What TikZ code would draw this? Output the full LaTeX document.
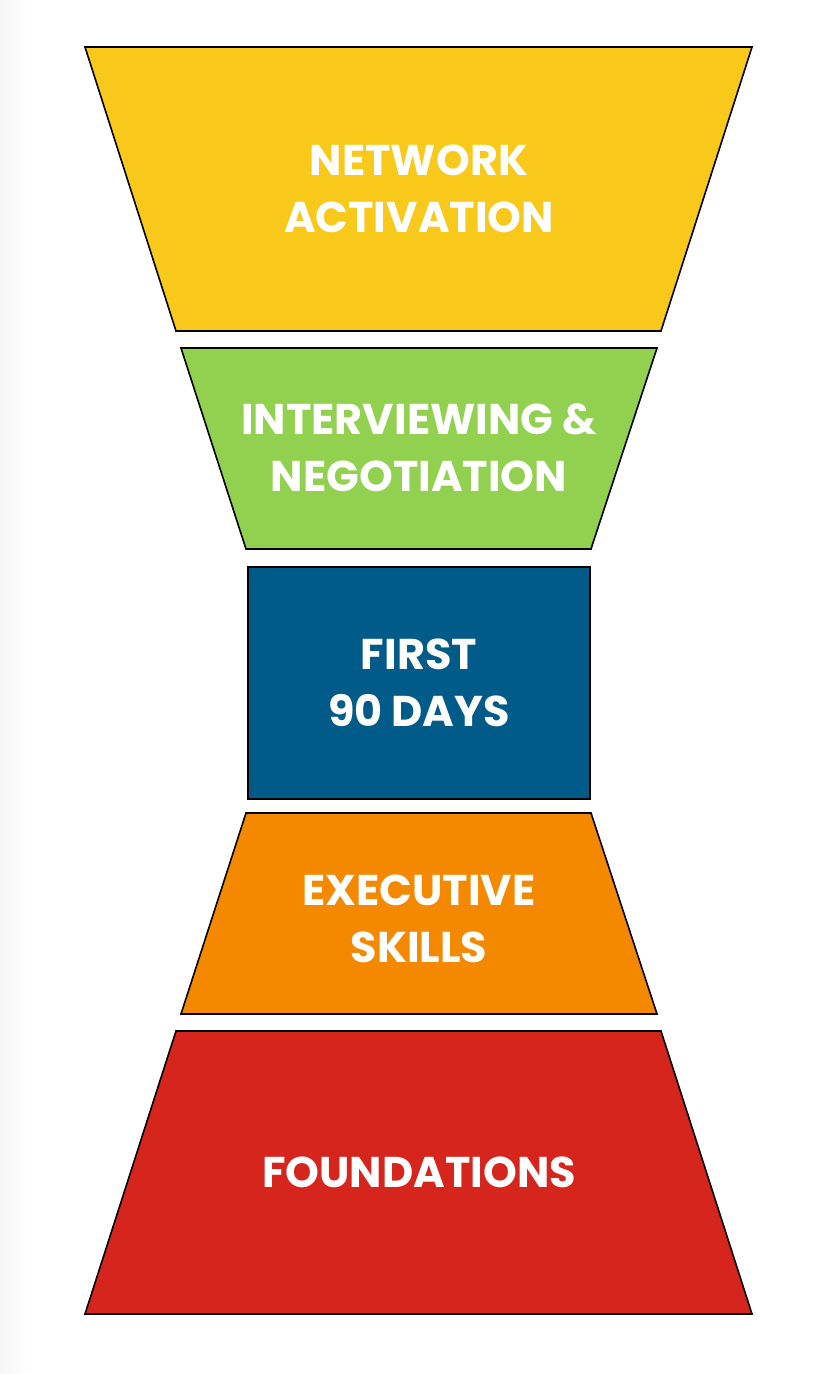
\documentclass[tikz,border=0pt]{standalone}
\usepackage{fontspec}
\setmainfont{Poppins}
\definecolor{cyel}{HTML}{F8C81A}
\definecolor{cgrn}{HTML}{92D050}
\definecolor{cblu}{HTML}{005B89}
\definecolor{corg}{HTML}{F48900}
\definecolor{cred}{HTML}{D5251D}
\tikzset{
  tier/.style={draw=black, line width=1.6pt, line join=miter},
  lbl/.style={text=white, font=\fontsize{43}{57}\selectfont\bfseries, align=center, inner sep=0pt},
}
\begin{document}
\begin{tikzpicture}[x=1pt,y=-1pt]
\useasboundingbox (0,0) rectangle (812,1374);
\fill[white] (0,0) rectangle (812,1374);
\shade[left color=black!4, right color=white] (0,0) rectangle (28,1374);
\filldraw[tier, fill=cyel] (85,47) -- (752,47) -- (661,331) -- (176,331) -- cycle;
\filldraw[tier, fill=cgrn] (181,348) -- (657,348) -- (591,549) -- (246,549) -- cycle;
\filldraw[tier, fill=cblu] (248,567) rectangle (590,799);
\filldraw[tier, fill=corg] (246,813) -- (591,813) -- (657,1014) -- (181,1014) -- cycle;
\filldraw[tier, fill=cred] (176,1031) -- (661,1031) -- (752,1314) -- (85,1314) -- cycle;
\node[lbl] (t1) at (419,189) {NETWORK\\ACTIVATION};
\node[lbl] (t2) at (419,448) {INTERVIEWING \&\\NEGOTIATION};
\node[lbl] (t3) at (419,683) {FIRST\\90 DAYS};
\node[lbl] (t4) at (419,919) {EXECUTIVE\\SKILLS};
\node[lbl] (t5) at (419,1172) {FOUNDATIONS};
\end{tikzpicture}
\end{document}
